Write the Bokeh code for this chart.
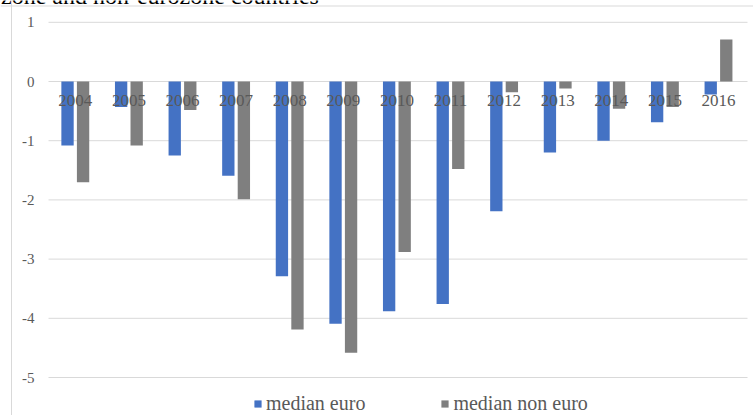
from bokeh.plotting import figure
from bokeh.models import Range1d, Span, Legend, LegendItem
from bokeh.core.properties import value
from bokeh.embed import file_html
from bokeh.resources import INLINE
import numpy as np

years = ["2004", "2005", "2006", "2007", "2008", "2009", "2010",
         "2011", "2012", "2013", "2014", "2015", "2016"]
median_euro = [-1.08, -0.43, -1.25, -1.59, -3.29, -4.09, -3.88,
               -3.76, -2.19, -1.20, -1.00, -0.69, -0.22]
median_non_euro = [-1.70, -1.08, -0.48, -1.99, -4.19, -4.58, -2.88,
                   -1.48, -0.18, -0.12, -0.46, -0.43, 0.71]
y_ticks = [1, 0, -1, -2, -3, -4, -5]
series_names = ["median euro", "median non euro"]
title_text = "zone and non-eurozone countries"

BLUE = "#4472C4"
GRAY = "#7F7F7F"
TXT = "#595959"
GRID = "#D9D9D9"
FONT = "Liberation Serif"
SERIF = value(FONT)

W, H = 753, 415
px_x = 53.6   # pixels per category
px_y = 59.2   # pixels per unit
x0_px = 48.0  # left edge of category area
y0_px = 81.0  # pixel row of zero line

xr = Range1d(-x0_px / px_x, (W - x0_px) / px_x)
yr = Range1d(-(H - y0_px) / px_y, y0_px / px_y)

p = figure(width=W, height=H, x_range=xr, y_range=yr,
           output_backend="svg", toolbar_location=None,
           min_border=0, min_border_left=0, min_border_right=0,
           min_border_top=0, min_border_bottom=0)
p.axis.visible = False
p.grid.visible = False
p.outline_line_color = None
p.background_fill_color = "white"
p.border_fill_color = "white"

n = len(years)
centers = np.arange(n) + 0.5
off = 0.145
bw = 0.23

# frame border (left and top)
p.add_layout(Span(location=(11 - x0_px) / px_x, dimension="height",
                  line_color=GRID, line_width=1))
p.add_layout(Span(location=(y0_px - 5.5) / px_y, dimension="width",
                  line_color=GRID, line_width=1))

# gridlines
grid_x1 = (747 - x0_px) / px_x
p.segment(x0=[0] * len(y_ticks), x1=[grid_x1] * len(y_ticks),
          y0=y_ticks, y1=y_ticks, line_color=GRID, line_width=1)

r1 = p.vbar(x=centers - off, top=median_euro, bottom=0, width=bw,
            fill_color=BLUE, line_color=None)
r2 = p.vbar(x=centers + off, top=median_non_euro, bottom=0, width=bw,
            fill_color=GRAY, line_color=None)

# category labels near the zero line
p.text(x=centers, y=[-(100 - y0_px) / px_y] * n, text=years,
       text_font=SERIF, text_font_size="17px", text_color=TXT,
       text_align="center", text_baseline="middle")

# y tick labels
p.text(x=[(34 - x0_px) / px_x] * len(y_ticks), y=y_ticks,
       text=[str(t) for t in y_ticks],
       text_font=SERIF, text_font_size="15px", text_color=TXT,
       text_align="right", text_baseline="middle")

# title (cut off at the top, as in the reference)
p.text(x=[(0.5 - x0_px) / px_x], y=[(y0_px - 4.5) / px_y], text=[title_text],
       text_font=SERIF, text_font_size="24px", text_color="#000000",
       text_align="left", text_baseline="alphabetic", y_offset=-9.5)

legend = Legend(items=[LegendItem(label=series_names[0], renderers=[r1]),
                       LegendItem(label=series_names[1], renderers=[r2])],
                orientation="horizontal", location=(253, 0),
                glyph_width=9, glyph_height=9, label_standoff=4,
                spacing=75, padding=0, margin=0, label_height=20,
                label_text_font=FONT, label_text_font_size="20px",
                label_text_color=TXT, border_line_color=None,
                background_fill_alpha=0)
p.add_layout(legend)

open("out.html", "w").write(file_html(p, INLINE))
